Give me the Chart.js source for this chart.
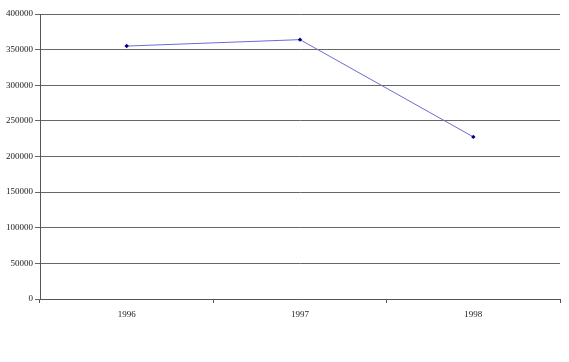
<!DOCTYPE html>
<html>
<head>
<meta charset="utf-8">
<script src="https://cdn.jsdelivr.net/npm/chart.js@4"></script>
<style>
  html, body { margin: 0; padding: 0; background: #fff; }
  #wrap { width: 569px; height: 362px; }
</style>
</head>
<body>
<div id="wrap"><canvas id="chart" width="569" height="362"></canvas></div>
<script>
const years = ['1996', '1997', '1998'];
const values = [355000, 364000, 227500];
const yTicks = [0, 50000, 100000, 150000, 200000, 250000, 300000, 350000, 400000];

const font = { family: 'Liberation Serif', size: 9 };

const config = {
  type: 'line',
  data: {
    labels: years,
    datasets: [{
      data: values,
      borderColor: '#6c6cd0',
      borderWidth: 1,
      pointStyle: 'rectRot',
      pointRadius: 2.2,
      pointBackgroundColor: '#000080',
      pointBorderColor: '#000080',
      pointBorderWidth: 0,
      tension: 0
    }]
  },
  options: {
    responsive: false,
    animation: false,
    layout: { padding: { top: 14, right: 9, left: 0, bottom: 0 } },
    plugins: { legend: { display: false }, tooltip: { enabled: false } },
    scales: {
      x: {
        offset: true,
        grid: {
          offset: true,
          drawOnChartArea: false,
          color: '#555',
          tickLength: 4
        },
        border: { color: '#555', width: 1 },
        ticks: { font, color: '#222', padding: 6, maxRotation: 0 },
        afterFit: (s) => { s.height = 63; }
      },
      y: {
        min: 0,
        max: 400000,
        afterBuildTicks: (s) => { s.ticks = yTicks.map(v => ({ value: v })); },
        grid: { color: '#666', tickLength: 5 },
        border: { color: '#555', width: 1 },
        ticks: { font, color: '#222', padding: 2, callback: (v) => String(v) },
        afterFit: (s) => { s.width = 40; }
      }
    }
  }
};

new Chart(document.getElementById('chart'), config);
</script>
</body>
</html>
